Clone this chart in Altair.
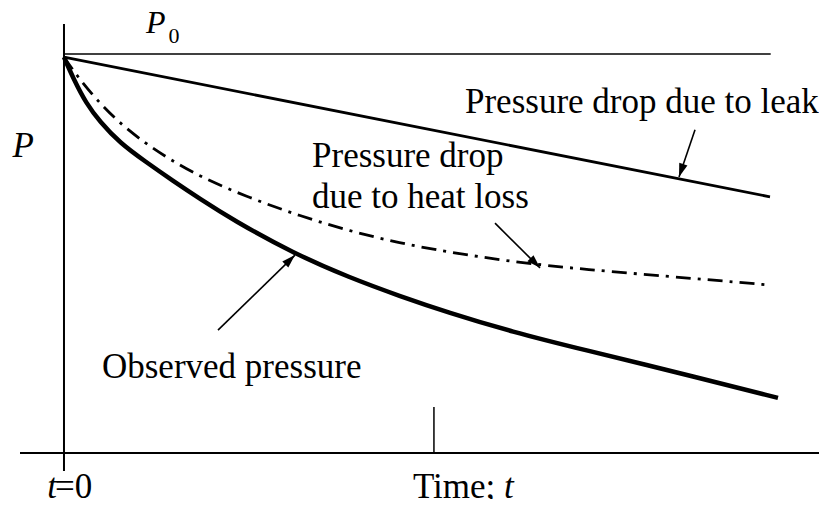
import altair as alt
import pandas as pd

# ---- data (time t in arbitrary units, pressure P with P0 = 1) ----
obs_t = [0.0, 0.142, 0.312, 0.510, 0.793, 1.147, 1.544, 1.926, 2.394, 3.244, 4.051, 4.759, 5.425, 6.360, 7.309, 9.008, 10.113]
obs_p = [0.992, 0.935, 0.877, 0.830, 0.777, 0.731, 0.682, 0.637, 0.584, 0.501, 0.439, 0.393, 0.353, 0.303, 0.261, 0.188, 0.138]

heat_t = [0.0, 0.198, 0.439, 0.765, 1.147, 1.473, 1.926, 2.635, 3.343, 4.051, 4.759, 5.425, 6.360, 7.309, 9.008, 10.0]
heat_p = [0.992, 0.942, 0.890, 0.830, 0.777, 0.739, 0.692, 0.639, 0.594, 0.556, 0.526, 0.504, 0.479, 0.461, 0.436, 0.421]

leak_t = [0.0, 10.0]
leak_p = [0.992, 0.642]

p0_t = [0.0, 10.01]
p0_level = [1.0, 1.0]

# axes drawn as lines
vaxis_t = [0.0]
vaxis_p = [-0.045, 1.075]
haxis_t = [-0.623, 11.0]
haxis_p = [0.0]
tick_t = [5.24]
tick_p = [0.0, 0.115]

# arrows: start -> tip
arrow_start_t = [8.938, 6.105, 2.181]
arrow_start_p = [0.810, 0.576, 0.308]
arrow_tip_t = [8.711, 6.742, 3.272]
arrow_tip_p = [0.692, 0.464, 0.496]
arrow_angle = [198.8, 135.0, 45.8]

# labels
leak_label = ["Pressure drop due to leak"]
heat_label = ["Pressure drop", "due to heat loss"]
obs_label = ["Observed pressure"]
time_label = ["Time;", "t"]
zero_label = ["t", "=0"]
p_label = ["P"]
p0_label = ["P", "0"]

# ---- scales ----
xs = alt.Scale(domain=[-0.793, 10.694], nice=False, zero=False)
ys = alt.Scale(domain=[-0.1153, 1.1153], nice=False, zero=False)
FONT = "Liberation Serif"


def X(f="t"):
    return alt.X(f"{f}:Q", scale=xs, axis=None)


def Y(f="p"):
    return alt.Y(f"{f}:Q", scale=ys, axis=None)


obs_df = pd.DataFrame({"t": obs_t, "p": obs_p})
heat_df = pd.DataFrame({"t": heat_t, "p": heat_p})
leak_df = pd.DataFrame({"t": leak_t, "p": leak_p})

obs_line = alt.Chart(obs_df).mark_line(color="black", strokeWidth=4.5, interpolate="basis").encode(x=X(), y=Y())
heat_line = alt.Chart(heat_df).mark_line(color="black", strokeWidth=2.8, strokeDash=[15, 7, 3, 7],
                                         interpolate="basis").encode(x=X(), y=Y())
leak_line = alt.Chart(leak_df).mark_line(color="black", strokeWidth=2.8).encode(x=X(), y=Y())

p0_df = pd.DataFrame({"t": [p0_t[0]], "t2": [p0_t[1]], "p": [p0_level[0]]})
p0_line = alt.Chart(p0_df).mark_rule(color="black", strokeWidth=1.5).encode(x=X(), x2="t2:Q", y=Y())

vax_df = pd.DataFrame({"t": vaxis_t, "p": [vaxis_p[0]], "p2": [vaxis_p[1]]})
vax = alt.Chart(vax_df).mark_rule(color="black", strokeWidth=2).encode(x=X(), y=Y(), y2="p2:Q")
hax_df = pd.DataFrame({"t": [haxis_t[0]], "t2": [haxis_t[1]], "p": haxis_p})
hax = alt.Chart(hax_df).mark_rule(color="black", strokeWidth=2).encode(x=X(), x2="t2:Q", y=Y())
tick_df = pd.DataFrame({"t": tick_t, "p": [tick_p[0]], "p2": [tick_p[1]]})
tick = alt.Chart(tick_df).mark_rule(color="black", strokeWidth=1.5).encode(x=X(), y=Y(), y2="p2:Q")

arr_df = pd.DataFrame({"t": arrow_start_t, "p": arrow_start_p, "t2": arrow_tip_t, "p2": arrow_tip_p,
                       "angle": arrow_angle})
shafts = alt.Chart(arr_df).mark_rule(color="black", strokeWidth=1.6).encode(x=X(), y=Y(), x2="t2:Q", y2="p2:Q")
heads = alt.Chart(arr_df).mark_point(shape="M0,0L-0.32,1L0.32,1Z", filled=True, color="black", opacity=1,
                                     size=729, strokeWidth=0).encode(
    x=X("t2"), y=Y("p2"), angle=alt.Angle("angle:Q", scale=None))


def text_layer(labels, ts, ps, size, italic=False, align="left"):
    df = pd.DataFrame({"label": labels, "t": ts, "p": ps})
    return alt.Chart(df).mark_text(font=FONT, fontSize=size, fontStyle="italic" if italic else "normal",
                                   align=align, baseline="alphabetic", color="black").encode(
        x=X(), y=Y(), text="label:N")


texts = [
    text_layer(leak_label, [5.68], [0.852], 35),
    text_layer(heat_label, [3.513, 3.513], [0.717, 0.614], 35),
    text_layer(obs_label, [0.538], [0.188], 35),
    text_layer(time_label[:1], [4.943], [-0.113], 35),
    text_layer(time_label[1:], [6.232], [-0.113], 35, italic=True),
    text_layer(zero_label[:1], [-0.099], [-0.113], 35, italic=True, align="right"),
    text_layer(zero_label[1:], [-0.127], [-0.113], 35),
    text_layer(p_label, [-0.73], [0.742], 35, italic=True),
    text_layer(p0_label[:1], [1.16], [1.053], 32, italic=True),
    text_layer(p0_label[1:], [1.48], [1.028], 22),
]

chart = alt.layer(vax, hax, tick, p0_line, leak_line, heat_line, obs_line, shafts, heads, *texts).properties(
    width=811, height=491, padding=0, autosize=alt.AutoSizeParams(type="none")
).configure_view(stroke=None)

chart.save("out.html", embed_options={"renderer": "svg", "actions": False})
